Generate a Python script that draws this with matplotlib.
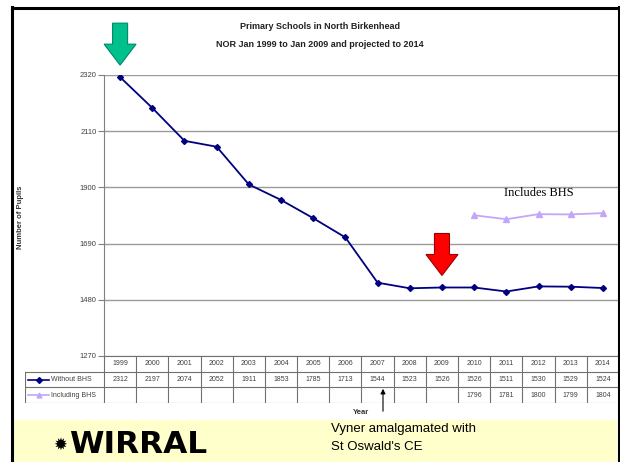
import numpy as np
import matplotlib
matplotlib.use('Agg')
import matplotlib.pyplot as plt
from matplotlib.patches import Polygon, Rectangle
from matplotlib.lines import Line2D

plt.rcParams['font.family'] = ['Liberation Sans', 'DejaVu Sans']

# data
years = [str(y) for y in range(1999, 2015)]
without_bhs = [2312, 2197, 2074, 2052, 1911, 1853, 1785, 1713, 1544, 1523, 1526, 1526, 1511, 1530, 1529, 1524]
incl_years = years[11:]
including_bhs = [1796, 1781, 1800, 1799, 1804]
yticks = [1270, 1480, 1690, 1900, 2110, 2320]

W, H = 620, 462
fig = plt.figure(figsize=(W / 100, H / 100), dpi=100)


def px(l, t, r, b):
    return [l / W, 1 - b / H, (r - l) / W, (b - t) / H]


# yellow footer band and black frame
fig.patches.append(Rectangle((12 / W, 0), (617 - 12) / W, (H - 420) / H,
                             transform=fig.transFigure, fc='#ffffcc', ec='none', zorder=0))
for xs, ys in [([11.5, 11.5], [7, H]), ([11.5, 618.5], [7.5, 7.5]), ([618.5, 618.5], [7, H])]:
    fig.add_artist(Line2D([x / W for x in xs], [1 - y / H for y in ys], color='black', lw=2.2,
                          transform=fig.transFigure))

# main plot
ax = fig.add_axes(px(104, 75, 619, 356))
x = np.arange(len(years))
xi = np.arange(11, 11 + len(including_bhs))
ax.plot(x, without_bhs, color='#000080', lw=1.3, marker='D', ms=3, mfc='#000080', mec='#000080', zorder=3)
ax.plot(xi, including_bhs, color='#c4a6f8', lw=1.3, marker='^', ms=4, mfc='#c4a6f8', mec='#c4a6f8', zorder=3)
ax.set_xlim(-0.5, len(years) - 0.5)
ax.set_ylim(1270, 2320)
ax.set_yticks(yticks)
ax.set_xticks([])
ax.grid(axis='y', color='#9a9a9a', lw=1.0)
for s in ['top', 'right', 'bottom']:
    ax.spines[s].set_visible(False)
ax.spines['left'].set_color('#808080')
ax.tick_params(axis='y', labelsize=5.5, labelcolor='#404040', color='#808080', length=4, pad=1.5)

fig.text(20 / W, 1 - 217 / H, 'Number of Pupils', rotation=90, ha='center', va='center',
         fontsize=5.5, fontweight='bold', color='#333333')

ax.text(0.42, 1.171, 'Primary Schools in North Birkenhead', transform=ax.transAxes,
        ha='center', va='center', fontsize=6.5, fontweight='bold', color='#222222')
ax.text(0.42, 1.110, 'NOR Jan 1999 to Jan 2009 and projected to 2014', transform=ax.transAxes,
        ha='center', va='center', fontsize=6.5, fontweight='bold', color='#222222')
ax.text(13, 1880, 'Includes BHS', family='Liberation Serif', fontsize=9, ha='center', va='center')

# data table
tab = fig.add_axes(px(25, 356, 619, 403))
lcol = -0.5 - 79 / 32.2
tab.set_xlim(lcol, len(years) - 0.5)
tab.set_ylim(3, 0)
tab.axis('off')
gc = '#707070'
tab.plot([-0.5, len(years) - 0.5], [0, 0], color=gc, lw=0.8)
for r in [1, 2, 3]:
    tab.plot([lcol, len(years) - 0.5], [r, r], color=gc, lw=0.8)
tab.plot([lcol, lcol], [1, 3], color=gc, lw=0.8)
for b in np.arange(-0.5, len(years), 1.0):
    tab.plot([b, b], [0, 3], color=gc, lw=0.8)
for i, yr in enumerate(years):
    tab.text(i, 0.5, yr, ha='center', va='center', fontsize=5, color='#404040')
    tab.text(i, 1.5, str(without_bhs[i]), ha='center', va='center', fontsize=5, color='#404040')
for yr, v in zip(incl_years, including_bhs):
    tab.text(years.index(yr), 2.5, str(v), ha='center', va='center', fontsize=5, color='#404040')
tab.plot([lcol + 0.1, lcol + 0.75], [1.5, 1.5], color='#000080', lw=1.2)
tab.plot([lcol + 0.42], [1.5], marker='D', ms=3, color='#000080')
tab.plot([lcol + 0.1, lcol + 0.75], [2.5, 2.5], color='#c4a6f8', lw=1.2)
tab.plot([lcol + 0.42], [2.5], marker='^', ms=3.5, color='#c4a6f8')
tab.text(lcol + 0.8, 1.5, 'Without BHS', ha='left', va='center', fontsize=5, color='#404040')
tab.text(lcol + 0.8, 2.5, 'Including BHS', ha='left', va='center', fontsize=5, color='#404040')

fig.text(361 / W, 1 - 412 / H, 'Year', ha='center', va='center', fontsize=5.5, fontweight='bold', color='#333333')

# big arrows pointing at 1999 and 2009 values
fig.canvas.draw()


def down_arrow(xd, yd, fc, ec):
    tx, ty = ax.transData.transform((xd, yd))
    ty += 12
    pts = [(tx, ty), (tx - 16, ty + 21), (tx - 7.5, ty + 21), (tx - 7.5, ty + 42),
           (tx + 7.5, ty + 42), (tx + 7.5, ty + 21), (tx + 16, ty + 21)]
    fig.patches.append(Polygon(pts, closed=True, fc=fc, ec=ec, lw=0.8, transform=None, zorder=5))


down_arrow(0, without_bhs[0], '#00c08c', '#008866')
down_arrow(years.index('2009'), without_bhs[years.index('2009')], '#ff0000', '#990000')

# footnote annotation
fig.add_artist(matplotlib.patches.FancyArrowPatch((383 / W, 1 - 414 / H), (383 / W, 1 - 386 / H),
                                                  transform=fig.transFigure, arrowstyle='-|>',
                                                  mutation_scale=7, color='black', lw=0.8))
fig.text(331 / W, 1 - 429 / H, 'Vyner amalgamated with', fontsize=9.5, ha='left', va='center')
fig.text(331 / W, 1 - 447 / H, "St Oswald's CE", fontsize=9.5, ha='left', va='center')

# logo
fig.text(53 / W, 1 - 450 / H, '\u2739', family='DejaVu Sans', fontsize=12, fontweight='bold', ha='left', va='baseline')
fig.text(69 / W, 1 - 453 / H, 'WIRRAL', family='DejaVu Sans', fontsize=22.5, fontweight='bold', ha='left', va='baseline')

fig.savefig('out.png', dpi=100)
